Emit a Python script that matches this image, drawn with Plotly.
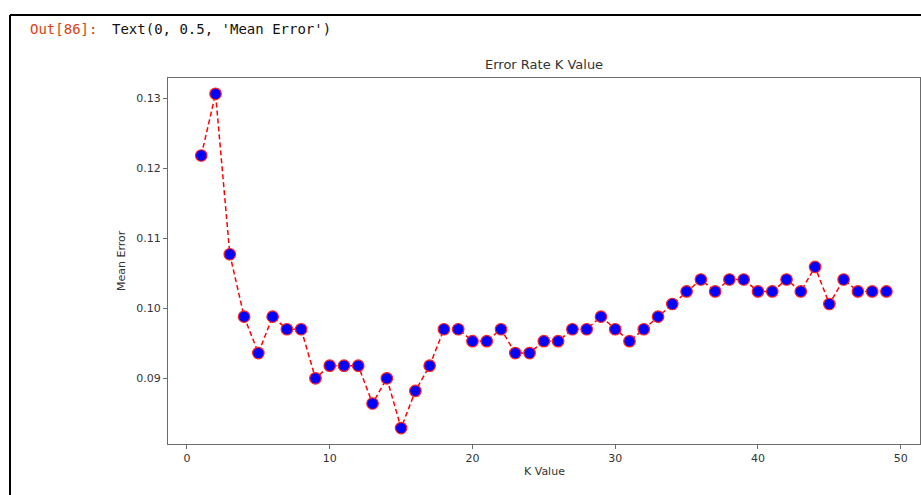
import plotly.graph_objects as go

# Data
k_values = [1, 2, 3, 4, 5, 6, 7, 8, 9, 10, 11, 12, 13, 14, 15, 16, 17, 18, 19, 20,
            21, 22, 23, 24, 25, 26, 27, 28, 29, 30, 31, 32, 33, 34, 35, 36, 37, 38, 39, 40,
            41, 42, 43, 44, 45, 46, 47, 48, 49]
mean_error = [0.1218, 0.1306, 0.1077, 0.0988, 0.0936, 0.0988, 0.0970, 0.0970, 0.0900, 0.0918,
              0.0918, 0.0918, 0.0864, 0.0900, 0.0829, 0.0882, 0.0918, 0.0970, 0.0970, 0.0953,
              0.0953, 0.0970, 0.0936, 0.0936, 0.0953, 0.0953, 0.0970, 0.0970, 0.0988, 0.0970,
              0.0953, 0.0970, 0.0988, 0.1006, 0.1024, 0.1041, 0.1024, 0.1041, 0.1041, 0.1024,
              0.1024, 0.1041, 0.1024, 0.1059, 0.1006, 0.1041, 0.1024, 0.1024, 0.1024]
x_ticks = [0, 10, 20, 30, 40, 50]
y_ticks = [0.09, 0.10, 0.11, 0.12, 0.13]
y_tick_labels = ["0.09", "0.10", "0.11", "0.12", "0.13"]

W, H = 921, 495
L, R, T, B = 168, 920, 78, 444  # plot area in px

def px(x):
    return x / W

def py(y):
    return 1 - y / H

fig = go.Figure()
fig.add_trace(go.Scatter(
    x=k_values, y=mean_error, mode="lines+markers",
    line=dict(color="#ff0000", width=1.5, dash="5px,3px"),
    marker=dict(color="#0000ff", size=11.5, line=dict(color="#ff2020", width=1.2)),
    showlegend=False, hoverinfo="x+y",
))

axis_common = dict(
    showline=True, mirror=True, linecolor="#6b6b6b", linewidth=1,
    ticks="outside", ticklen=4, tickcolor="#6b6b6b", tickwidth=1,
    showgrid=False, zeroline=False,
    tickfont=dict(family="DejaVu Sans", size=11, color="#333333"),
)

fig.update_layout(
    width=W, height=H,
    margin=dict(l=0, r=0, t=0, b=0),
    paper_bgcolor="white", plot_bgcolor="white",
    xaxis=dict(domain=[px(L), px(R)], range=[-1.33, 51.35],
               tickvals=x_ticks, ticktext=[str(v) for v in x_ticks], **axis_common),
    yaxis=dict(domain=[py(B), py(T)], range=[0.08062, 0.13286],
               tickvals=y_ticks, ticktext=y_tick_labels, **axis_common),
    shapes=[
        dict(type="line", xref="paper", yref="paper", x0=px(10), x1=1.0, y0=py(15), y1=py(15),
             line=dict(color="black", width=2)),
        dict(type="line", xref="paper", yref="paper", x0=px(10), x1=px(10), y0=py(15), y1=0,
             line=dict(color="black", width=2)),
    ],
    annotations=[
        dict(text="Out[86]:", xref="paper", yref="paper", x=px(28), y=py(29),
             xanchor="left", yanchor="middle", showarrow=False,
             font=dict(family="DejaVu Sans Mono", size=14, color="#d84315")),
        dict(text="Text(0, 0.5, 'Mean Error')", xref="paper", yref="paper", x=px(110), y=py(29),
             xanchor="left", yanchor="middle", showarrow=False,
             font=dict(family="DejaVu Sans Mono", size=14, color="#111111")),
        dict(text="Error Rate K Value", xref="paper", yref="paper", x=px((L + R) / 2), y=py(65),
             xanchor="center", yanchor="middle", showarrow=False,
             font=dict(family="DejaVu Sans", size=13, color="#333333")),
        dict(text="K Value", xref="paper", yref="paper", x=px((L + R) / 2), y=py(471),
             xanchor="center", yanchor="middle", showarrow=False,
             font=dict(family="DejaVu Sans", size=11, color="#333333")),
        dict(text="Mean Error", xref="paper", yref="paper", x=px(121), y=py((T + B) / 2),
             xanchor="center", yanchor="middle", showarrow=False, textangle=-90,
             font=dict(family="DejaVu Sans", size=11, color="#333333")),
    ],
)

fig.write_html("out.html")
